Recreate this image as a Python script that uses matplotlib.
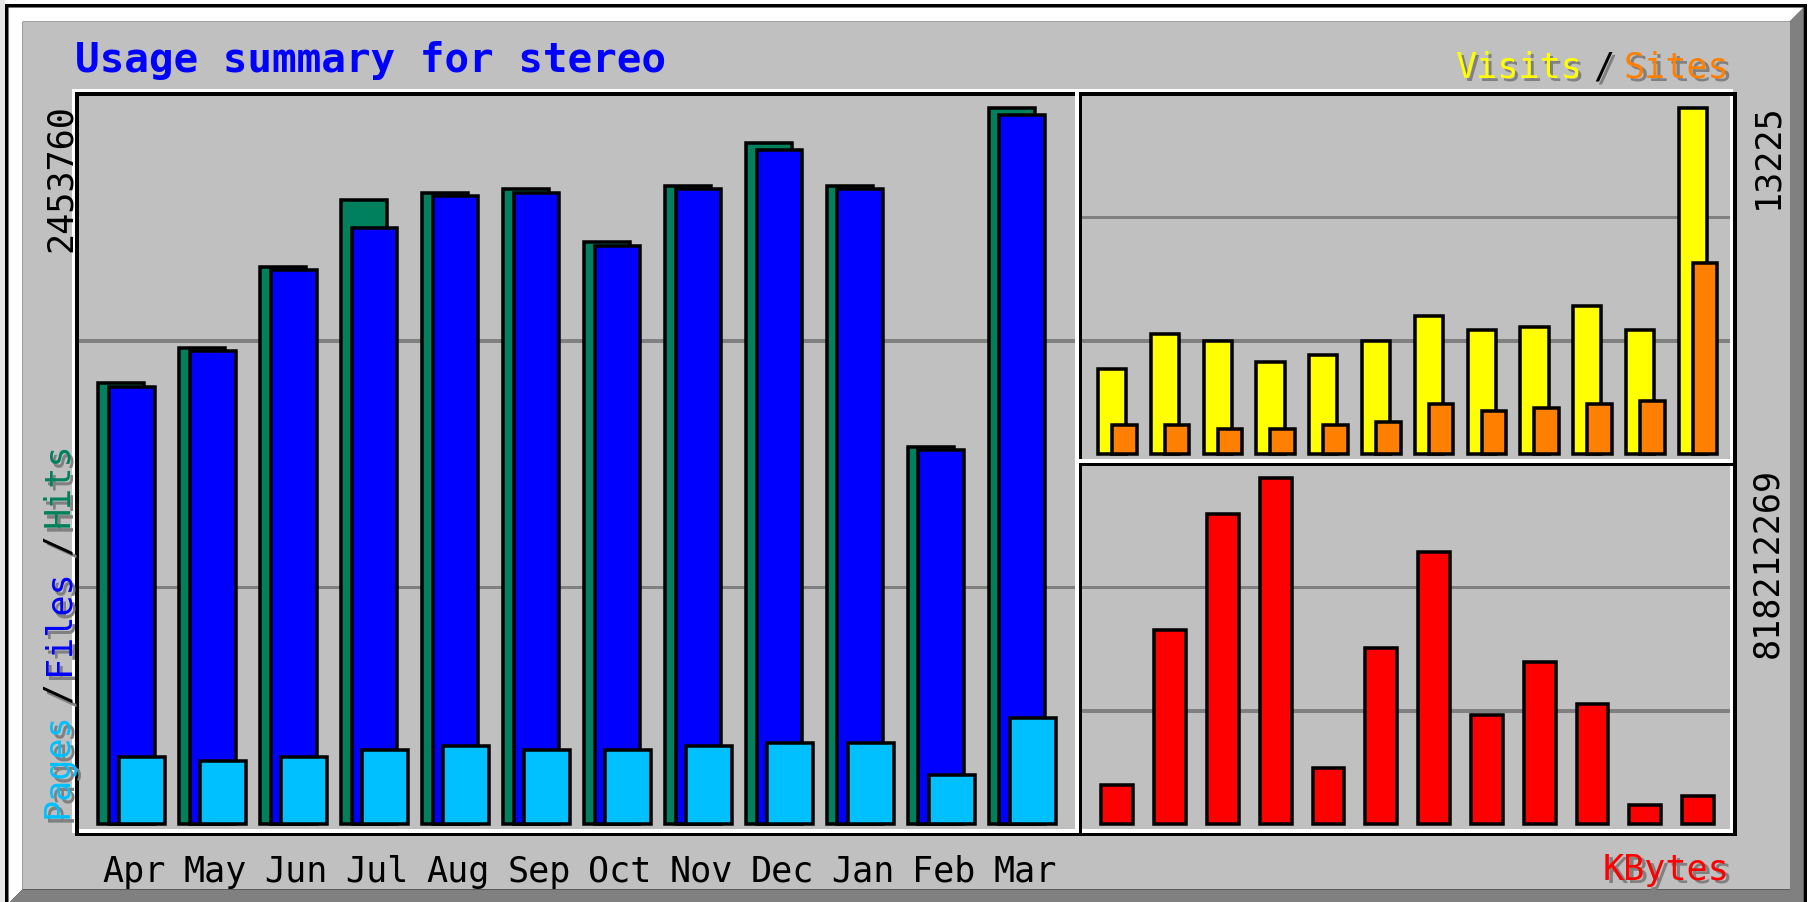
import numpy as np
import matplotlib
matplotlib.use("Agg")
import matplotlib.pyplot as plt
from matplotlib.patches import Rectangle, Polygon
import matplotlib.transforms as mtransforms

# ---------------- data ----------------
months = ['Apr', 'May', 'Jun', 'Jul', 'Aug', 'Sep', 'Oct', 'Nov', 'Dec', 'Jan', 'Feb', 'Mar']
hits = [1510900, 1631800, 1909800, 2139500, 2163700, 2175800,
        1994400, 2187800, 2332900, 2187800, 1293400, 2453760]
files = [1498900, 1619700, 1897700, 2042800, 2151600, 2163700,
         1982400, 2175800, 2308700, 2175800, 1281300, 2429600]
pages = [229700, 217600, 229700, 253800, 265900, 253800,
         253800, 265900, 278000, 278000, 169200, 362600]
visits = [3239, 4588, 4318, 3509, 3779, 4318, 5263, 4723, 4858, 5668, 4723, 13225]
sites = [1080, 1080, 945, 945, 1080, 1215, 1889, 1619, 1754, 1889, 2024, 7287]
kbytes = [91840000, 459200000, 734720000, 818212269, 133590000, 417460000,
          642880000, 258820000, 384060000, 283870000, 45900000, 66790000]
title = 'Usage summary for stereo'

# ---------------- style ----------------
GREY = '#C0C0C0'
DARK = '#808080'
C_HITS, C_FILES, C_PAGES = '#00805C', '#0000FF', '#00C0FF'
C_VISITS, C_SITES, C_KB = '#FFFF00', '#FF8000', '#FF0000'
MONO = 'DejaVu Sans Mono'
FS_SMALL = 25.3
FS_TITLE = 29.5

W, H, DPI = 1814, 903, 100
SX, SY, OX, OY = 3.52, 3.527, 5.0, 5.0   # original-pixel grid -> image pixels
LW = SX * 72 / DPI

fig = plt.figure(figsize=(W / DPI, H / DPI), dpi=DPI, facecolor='white')


def fx(u):
    return (OX + SX * u) / W


def fy(v):
    return 1 - (OY + SY * v) / H


ov = fig.add_axes([0, 0, 1, 1], zorder=0)
ov.set_xlim(-OX / SX, (W - OX) / SX)
ov.set_ylim((H - OY) / SY, -OY / SY)
ov.axis('off')


def box(x0, y0, x1, y1, c):
    ov.add_patch(Rectangle((x0, y0), x1 - x0, y1 - y0, facecolor=c,
                           edgecolor='none', lw=0))


def outline(x1, y1, x2, y2, c):
    box(x1, y1, x2 + 1, y1 + 1, c)
    box(x1, y2, x2 + 1, y2 + 1, c)
    box(x1, y1, x1 + 1, y2 + 1, c)
    box(x2, y1, x2 + 1, y2 + 1, c)


# page strip on the left
box(-OX / SX, -OY / SY, 0, (H - OY) / SY, '#E8E8E8')

# outer frame with bevel
box(0, 0, 512, 256, 'black')
ov.add_patch(Polygon([(1, 1), (511, 1), (507, 5), (5, 5), (5, 251), (1, 255)],
                     closed=True, facecolor='white', edgecolor='none', lw=0))
ov.add_patch(Polygon([(511, 1), (511, 255), (1, 255), (5, 251), (507, 251), (507, 5)],
                     closed=True, facecolor=DARK, edgecolor='none', lw=0))
box(5, 5, 507, 251, GREY)

# index lines
for row in (95, 165):
    box(21, row, 304, row + 1, DARK)
for row in (60, 95):
    box(306, row, 490, row + 1, DARK)
for row in (165, 200):
    box(306, row, 490, row + 1, DARK)

# panel frames
outline(19, 24, 304, 234, 'white')
outline(20, 25, 305, 235, 'black')
outline(304, 24, 490, 129, 'white')
outline(305, 25, 491, 130, 'black')
outline(304, 129, 490, 234, 'white')
outline(305, 130, 491, 235, 'black')


def add_data_axes(u0, u1, v0, v1):
    ax = fig.add_axes([fx(u0), fy(v1), fx(u1) - fx(u0), fy(v0) - fy(v1)], zorder=2)
    ax.patch.set_alpha(0)
    ax.axis('off')
    return ax


x = np.arange(len(months))
bar_kw = dict(align='edge', edgecolor='black', linewidth=LW)

# main panel: hits / files / pages
ax1 = add_data_axes(21, 304, 26, 234)
mh = max(hits)
ax1.set_xlim((21 - 26.5) / 23, (304 - 26.5) / 23)
ax1.set_ylim(-1.5 / 203 * mh, 206.5 / 203 * mh)
ax1.bar(x, hits, width=13 / 23, color=C_HITS, **bar_kw)
ax1.bar(x + 3 / 23, files, width=13 / 23, color=C_FILES, **bar_kw)
ax1.bar(x + 6 / 23, pages, width=13 / 23, color=C_PAGES, **bar_kw)

# top right: visits / sites
ax2 = add_data_axes(306, 490, 26, 129)
mv = max(visits)
ax2.set_xlim((306 - 310.5) / 15, (490 - 310.5) / 15)
ax2.set_ylim(-1.5 / 98 * mv, 101.5 / 98 * mv)
ax2.bar(x, visits, width=8 / 15, color=C_VISITS, **bar_kw)
ax2.bar(x + 4 / 15, sites, width=7 / 15, color=C_SITES, **bar_kw)

# bottom right: kbytes
ax3 = add_data_axes(306, 490, 131, 234)
mk = max(kbytes)
ax3.set_xlim((306 - 311.5) / 15, (490 - 311.5) / 15)
ax3.set_ylim(-1.5 / 98 * mk, 101.5 / 98 * mk)
ax3.bar(x, kbytes, width=9 / 15, color=C_KB, **bar_kw)

# month labels
trans = mtransforms.blended_transform_factory(ax1.transData, ov.transData)
for i, m in enumerate(months):
    ax1.text(i + (27.7 - 26.5) / 23, 248.6, m, transform=trans, ha='left',
             va='baseline', fontsize=FS_SMALL, family=MONO, color='black',
             clip_on=False)

# title
ov.text(19.9, 19.0, title, ha='left', va='baseline', fontsize=FS_TITLE,
        family=MONO, fontweight='bold', color=C_FILES)


def shadow_text(u, v, s, c, **kw):
    ov.text(u + 1, v + 1, s, color=DARK, fontsize=FS_SMALL, family=MONO, **kw)
    ov.text(u, v, s, color=c, fontsize=FS_SMALL, family=MONO, **kw)


hz = dict(ha='left', va='baseline')
shadow_text(411.9, 20.5, 'Visits', C_VISITS, **hz)
shadow_text(451.1, 20.5, '/', 'black', **hz)
shadow_text(459.9, 20.5, 'Sites', C_SITES, **hz)
shadow_text(453.9, 248.0, 'KBytes', C_KB, **hz)

up = dict(rotation=90, rotation_mode='anchor', ha='left', va='baseline')
shadow_text(17.9, 230.5, 'Pages', C_PAGES, **up)
shadow_text(17.9, 197.9, '/', 'black', **up)
shadow_text(17.9, 190.0, 'Files', C_FILES, **up)
shadow_text(17.9, 155.9, '/', 'black', **up)
shadow_text(17.9, 148.0, 'Hits', C_HITS, **up)

# max value labels
upr = dict(rotation=90, rotation_mode='anchor', ha='right', va='baseline',
           fontsize=FS_SMALL, family=MONO, color='black')
ov.text(18.6, 28.1, str(max(hits)), **upr)
ov.text(503.6, 27.8, str(max(visits)), **upr)
ov.text(503.6, 131.3, str(max(kbytes)), **upr)

fig.savefig('out.png', dpi=DPI, facecolor=fig.get_facecolor())
